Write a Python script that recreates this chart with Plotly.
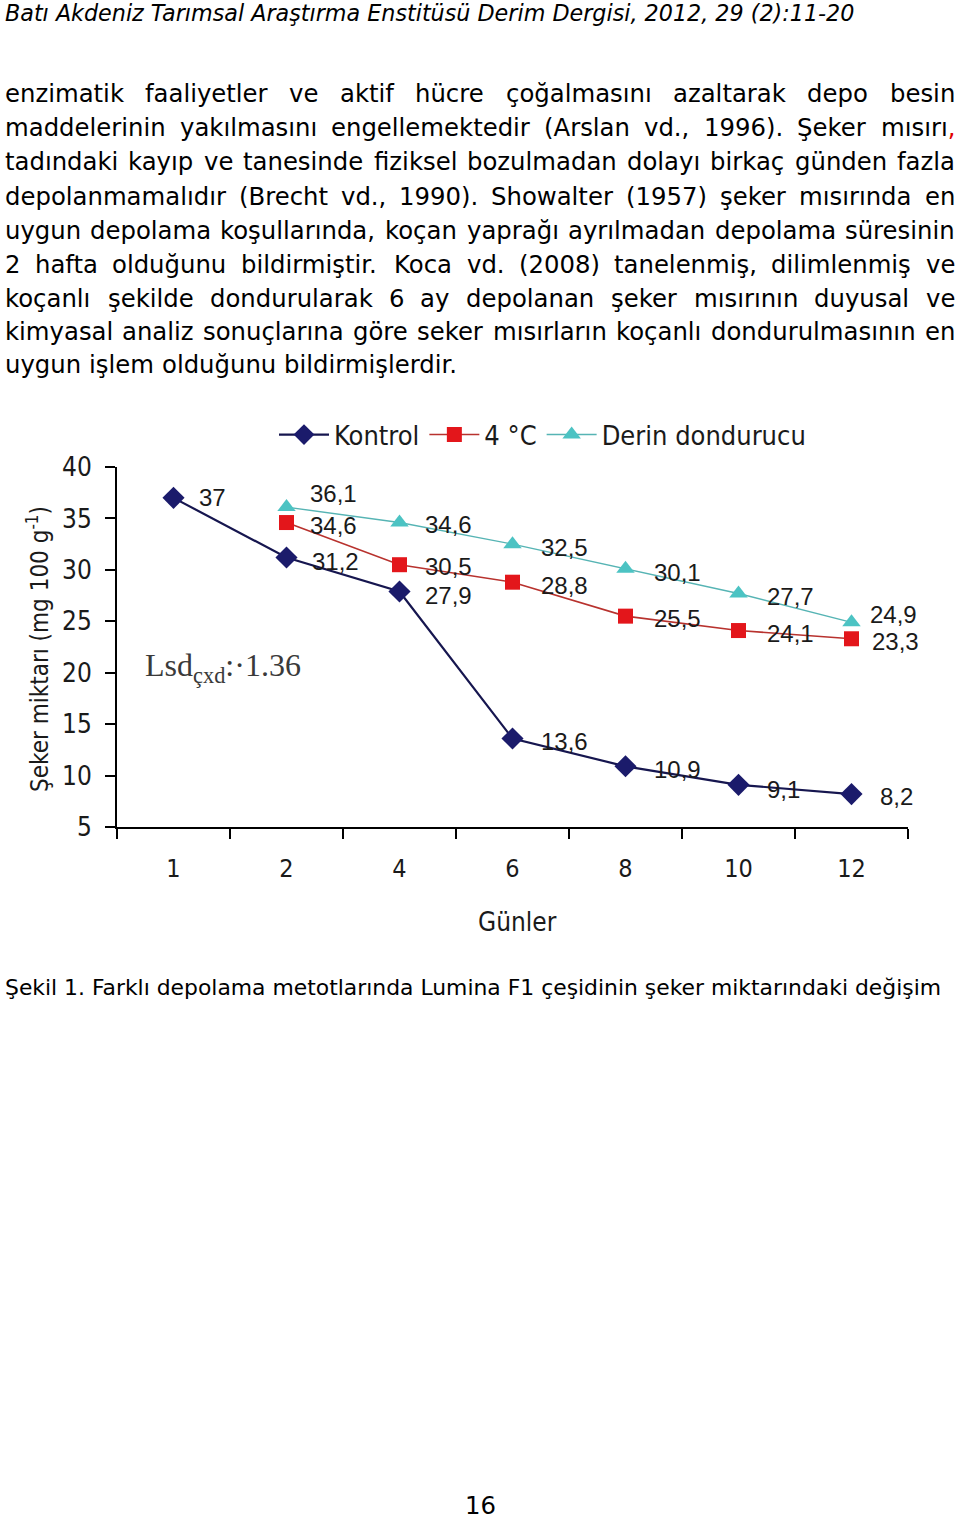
import plotly.graph_objects as go

W, H = 960, 1519

# ---------------- data ----------------
days = ["1", "2", "4", "6", "8", "10", "12"]
kontrol = [37, 31.2, 27.9, 13.6, 10.9, 9.1, 8.2]
dort_c = [None, 34.6, 30.5, 28.8, 25.5, 24.1, 23.3]
derin = [None, 36.1, 34.6, 32.5, 30.1, 27.7, 24.9]
series_names = ["Kontrol", "4 °C", "Derin dondurucu"]
y_tick_vals = [5, 10, 15, 20, 25, 30, 35, 40]

header_text = "Batı Akdeniz Tarımsal Araştırma Enstitüsü Derim Dergisi, 2012, 29 (2):11-20"
body_lines = [
    "enzimatik faaliyetler ve aktif hücre çoğalmasını azaltarak depo besin",
    "maddelerinin yakılmasını engellemektedir (Arslan vd., 1996). Şeker mısırı,",
    "tadındaki kayıp ve tanesinde fiziksel bozulmadan dolayı birkaç günden fazla",
    "depolanmamalıdır (Brecht vd., 1990). Showalter (1957) şeker mısırında en",
    "uygun depolama koşullarında, koçan yaprağı ayrılmadan depolama süresinin",
    "2 hafta olduğunu bildirmiştir. Koca vd. (2008) tanelenmiş, dilimlenmiş ve",
    "koçanlı şekilde dondurularak 6 ay depolanan şeker mısırının duyusal ve",
    "kimyasal analiz sonuçlarına göre seker mısırların koçanlı dondurulmasının en",
    "uygun işlem olduğunu bildirmişlerdir.",
]
caption_text = "Şekil 1. Farklı depolama metotlarında Lumina F1 çeşidinin şeker miktarındaki değişim"
page_no = "16"
lsd_text = "Lsd<sub>çxd</sub>:·1.36"
y_title = "Şeker miktarı (mg 100 g<sup>-1</sup>)"
x_title = "Günler"

# ---------------- styles ----------------
BODY_FONT = "DejaVu Sans"
CHART_FONT = "DejaVu Sans Condensed, DejaVu Sans"
LABEL_FONT = "Liberation Sans, Arial"
SERIF_FONT = "Liberation Serif, Times New Roman"

colors_line = ["#16164f", "#b8322e", "#56b4b4"]
colors_marker = ["#1b1b6b", "#e3161b", "#4cc3c3"]
symbols = ["diamond", "square", "triangle-up"]
msizes = [17, 15, 16]
lwidths = [2.2, 1.6, 1.4]
label_xshift = [[23, 23, 23, 26, 26, 26, 26],
                [None, 21, 23, 26, 26, 26, 18],
                [None, 21, 23, 26, 26, 26, 16]]
label_yshift = [[0, -4, -4, -3, -3, -5, -2],
                [None, -3, -2, -3, -2, -3, -3],
                [None, 14, -2, -3, -4, -3, 8]]

# DejaVu Sans advance widths (em) for justification
_w = {' ': .318, '!': .401, '(': .390, ')': .390, ',': .318, '-': .361, '.': .318, ':': .337}
for d in "0123456789":
    _w[d] = .636
_up = dict(A=.684, B=.686, C=.698, D=.770, E=.632, F=.575, G=.775, H=.752, I=.295, J=.295,
           K=.656, L=.557, M=.863, N=.748, O=.787, P=.603, Q=.787, R=.695, S=.635, T=.611,
           U=.732, V=.684, W=.989, X=.685, Y=.611, Z=.685)
_lo = dict(a=.613, b=.635, c=.550, d=.635, e=.615, f=.352, g=.635, h=.634, i=.278, j=.278,
           k=.579, l=.278, m=.974, n=.634, o=.612, p=.635, q=.635, r=.411, s=.521, t=.392,
           u=.634, v=.592, w=.818, x=.592, y=.592, z=.525)
_w.update(_up); _w.update(_lo)
_w.update({'ç': .550, 'ğ': .635, 'ı': .278, 'ş': .521, 'ö': .612, 'ü': .634, 'Ş': .635, 'İ': .295,
           'Ç': .698, 'Ö': .787, 'Ü': .732})


def em_width(s):
    return sum(_w.get(c, .6) for c in s)


def px(x):
    return x / W


def py(y):
    return 1 - y / H


fig = go.Figure()
series = [kontrol, dort_c, derin]
for i, (name, vals) in enumerate(zip(series_names, series)):
    fig.add_trace(go.Scatter(
        x=days, y=vals, name=name, mode="lines+markers",
        line=dict(color=colors_line[i], width=lwidths[i]),
        marker=dict(symbol=symbols[i], size=msizes[i], color=colors_marker[i],
                    line=dict(width=0)),
        connectgaps=False,
    ))

annotations = []
# data labels (x given as category index)
for i, vals in enumerate(series):
    for j, v in enumerate(vals):
        if v is None:
            continue
        txt = (f"{v:g}").replace(".", ",")
        annotations.append(dict(
            x=j, y=v, xref="x", yref="y", text=txt, showarrow=False,
            xanchor="left", yanchor="middle",
            xshift=label_xshift[i][j], yshift=label_yshift[i][j],
            font=dict(family=LABEL_FONT, size=24, color="#1a1a1a")))

# Lsd annotation
annotations.append(dict(x=px(143), y=py(667), xref="paper", yref="paper", text=lsd_text,
                        showarrow=False, xanchor="left", yanchor="middle",
                        font=dict(family=SERIF_FONT, size=32, color="#3a3a3a")))
# axis titles
annotations.append(dict(x=px(38), y=py(649), xref="paper", yref="paper", text=y_title,
                        showarrow=False, textangle=-90, xanchor="center", yanchor="middle",
                        font=dict(family=CHART_FONT, size=24, color="#1a1a1a")))
annotations.append(dict(x=px(517), y=py(922), xref="paper", yref="paper", text=x_title,
                        showarrow=False, xanchor="center", yanchor="middle",
                        font=dict(family=CHART_FONT, size=26, color="#1a1a1a")))

# header
hfs = 852 / em_width(header_text)
annotations.append(dict(x=px(3), y=py(13), xref="paper", yref="paper",
                        text="<i>" + header_text + "</i>", showarrow=False,
                        xanchor="left", yanchor="middle",
                        font=dict(family=BODY_FONT, size=hfs, color="#000")))

# body (justified)
bfs = 455 / em_width(body_lines[-1])
line_y = [93, 127, 161, 195, 229, 263, 297, 330, 364]
L, R = 5, 955
for k, line in enumerate(body_lines):
    words = line.split(" ")
    widths = [em_width(wd) * bfs for wd in words]
    justified = k < len(body_lines) - 1
    if justified:
        gap = (R - L - sum(widths)) / (len(words) - 1)
    else:
        gap = _w[' '] * bfs
    x = L
    for n, (wd, ww) in enumerate(zip(words, widths)):
        t = wd
        if k == 1 and n == len(words) - 1 and wd.endswith(","):
            t = wd[:-1] + "<span style='color:#e00000'>,</span>"
        annotations.append(dict(x=px(x - 2), y=py(line_y[k] + 1), xref="paper", yref="paper",
                                text=t, showarrow=False, xanchor="left", yanchor="middle",
                                font=dict(family=BODY_FONT, size=bfs, color="#000")))
        x += ww + gap

# caption
cfs = 940 / em_width(caption_text)
annotations.append(dict(x=px(3), y=py(988), xref="paper", yref="paper", text=caption_text,
                        showarrow=False, xanchor="left", yanchor="middle",
                        font=dict(family=BODY_FONT, size=cfs, color="#000")))
# page number
annotations.append(dict(x=px(480), y=py(1505), xref="paper", yref="paper", text=page_no,
                        showarrow=False, xanchor="center", yanchor="middle",
                        font=dict(family=BODY_FONT, size=bfs, color="#000")))

fig.update_layout(
    width=W, height=H, margin=dict(l=0, r=0, t=0, b=0, autoexpand=False),
    paper_bgcolor="white", plot_bgcolor="white",
    showlegend=True,
    legend=dict(orientation="h", x=px(274), y=py(435), xanchor="left", yanchor="middle",
                font=dict(family=CHART_FONT, size=27, color="#1a1a1a"),
                bgcolor="rgba(0,0,0,0)", itemwidth=50, traceorder="normal"),
    xaxis=dict(domain=[px(117), px(908)], type="category", categoryorder="array",
               categoryarray=days, range=[-0.5, 6.5], tickson="boundaries",
               ticks="outside", ticklen=10, tickwidth=2, tickcolor="#000",
               showline=True, linewidth=2, linecolor="#000", showgrid=False,
               zeroline=False, ticklabelstandoff=18,
               tickfont=dict(family=CHART_FONT, size=25, color="#1a1a1a")),
    yaxis=dict(domain=[py(827), py(467)], range=[5, 40], tickvals=y_tick_vals,
               ticks="outside", ticklen=10, tickwidth=2, tickcolor="#000",
               showline=True, linewidth=2, linecolor="#000", showgrid=False,
               zeroline=False, ticklabelstandoff=8,
               tickfont=dict(family=CHART_FONT, size=26, color="#1a1a1a")),
    annotations=annotations,
)

fig.write_html("out.html")
